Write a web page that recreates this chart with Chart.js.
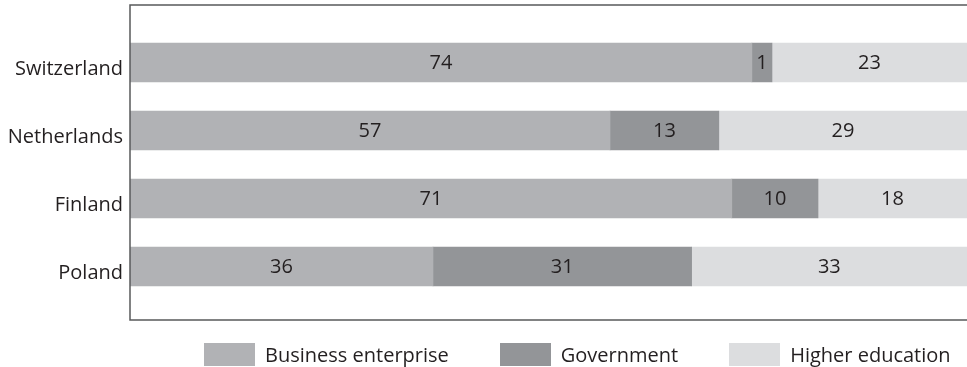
<!DOCTYPE html>
<html>
<head>
<meta charset="utf-8">
<script src="https://cdn.jsdelivr.net/npm/chart.js@4"></script>
<style>
  html, body { margin: 0; padding: 0; background: #fff; }
  #wrap { position: relative; width: 967px; height: 367px; overflow: hidden; }
  #legend { position: absolute; left: 204px; top: 343px; width: 780px; display: flex; white-space: nowrap; font-family: "Open Sans", sans-serif; font-size: 20px; color: #231f20; }
  .item { display: flex; flex-shrink: 0; align-items: center; margin-right: 51px; height: 23px; }
  .box { width: 51px; height: 23px; margin-right: 10px; flex-shrink: 0; }
</style>
</head>
<body>
<div id="wrap">
  <canvas id="chart" width="967" height="367"></canvas>
  <div id="legend"></div>
</div>
<script>
const countries = ['Switzerland', 'Netherlands', 'Finland', 'Poland'];
const seriesNames = ['Business enterprise', 'Government', 'Higher education'];
const colors = ['#b1b2b5', '#939598', '#dcdddf'];

// printed numbers
const businessLabels = [74, 57, 71, 36];
const governmentLabels = [1, 13, 10, 31];
const higherLabels = [23, 29, 18, 33];

// bar lengths, share of 100
const businessShare = [74.3, 57.35, 71.9, 36.2];
const governmentShare = [2.4, 13.0, 10.3, 30.9];
const higherShare = [23.3, 29.65, 17.8, 32.9];

const fontFamily = '"Open Sans", sans-serif';

const frame = {
  id: 'frame',
  afterDraw(chart) {
    const a = chart.chartArea;
    const c = chart.ctx;
    const top = a.top - 23.5, bottom = a.bottom + 19.5;
    c.save();
    c.strokeStyle = '#58595b';
    c.lineWidth = 1.5;
    c.beginPath();
    c.moveTo(chart.width, top);
    c.lineTo(a.left, top);
    c.lineTo(a.left, bottom);
    c.lineTo(chart.width, bottom);
    c.stroke();
    c.restore();
  }
};

const barText = {
  id: 'barText',
  afterDatasetsDraw(chart) {
    const c = chart.ctx;
    c.save();
    c.fillStyle = '#231f20';
    c.font = '20px ' + fontFamily;
    c.textAlign = 'center';
    c.textBaseline = 'middle';
    chart.data.datasets.forEach((ds, i) => {
      chart.getDatasetMeta(i).data.forEach((bar, j) => {
        const mid = (bar.x + bar.base) / 2;
        c.fillText(String(ds.shown[j]), mid, bar.y + 1);
      });
    });
    c.restore();
  }
};

const shares = [businessShare, governmentShare, higherShare];
const shown = [businessLabels, governmentLabels, higherLabels];

new Chart(document.getElementById('chart'), {
  type: 'bar',
  data: {
    labels: countries,
    datasets: seriesNames.map((name, i) => ({
      label: name,
      data: shares[i],
      shown: shown[i],
      backgroundColor: colors[i],
      borderWidth: 0,
      barThickness: 39
    }))
  },
  options: {
    indexAxis: 'y',
    responsive: false,
    animation: false,
    layout: { padding: { top: 28.5, bottom: 66.5, left: 0, right: 0 } },
    plugins: {
      legend: { display: false },
      tooltip: { enabled: false }
    },
    scales: {
      x: { stacked: true, min: 0, max: 100, display: false },
      y: {
        stacked: true,
        border: { display: false },
        grid: { display: false, drawTicks: false },
        ticks: { color: '#231f20', padding: 7, labelOffset: 7, font: { family: fontFamily, size: 20 } },
        afterFit(scale) { scale.width = 130; }
      }
    }
  },
  plugins: [frame, barText]
});

const legend = document.getElementById('legend');
seriesNames.forEach((name, i) => {
  const item = document.createElement('div');
  item.className = 'item';
  item.innerHTML = '<span class="box" style="background:' + colors[i] + '"></span><span>' + name + '</span>';
  legend.appendChild(item);
});
</script>
</body>
</html>
